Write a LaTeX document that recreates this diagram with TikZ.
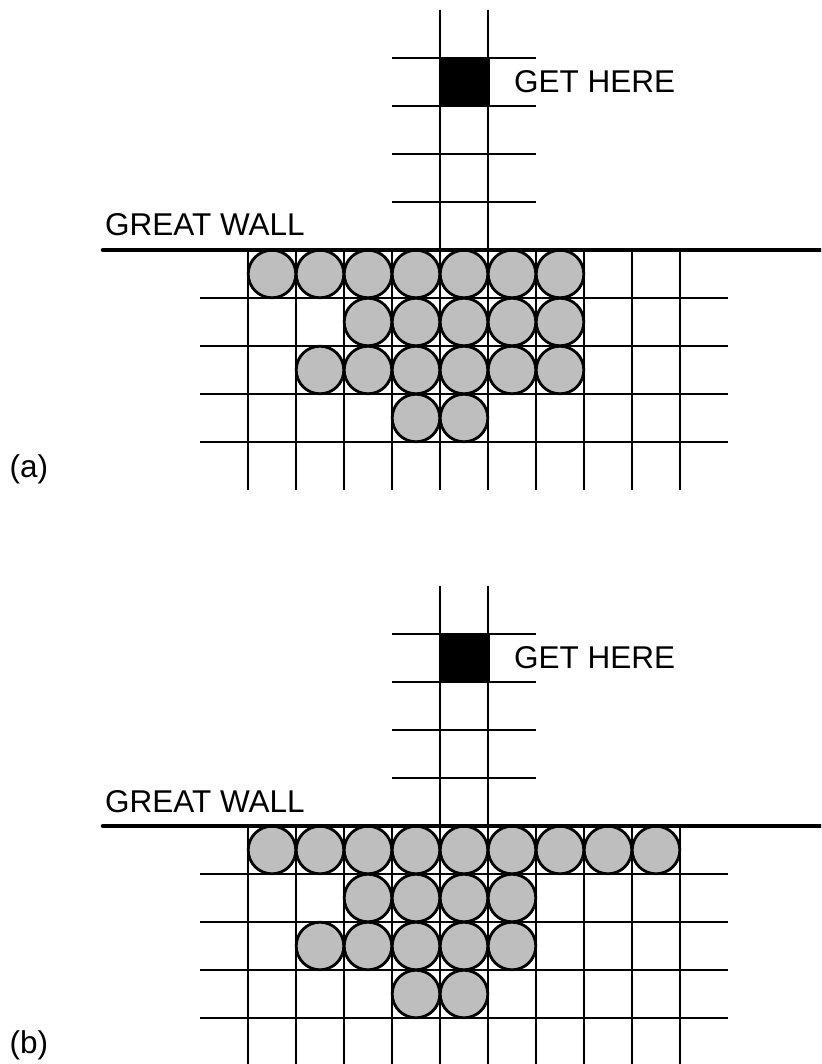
\documentclass[tikz,border=0pt]{standalone}
\usepackage{fontspec}
\setmainfont{Liberation Sans}
\newcommand\panelgrid[2]{%
  \foreach \i in {0,...,9} \draw[gridline] ({248+48*\i},250) -- ({248+48*\i},490);
  \foreach \j in {1,...,4} \draw[gridline] (200,{250+48*\j}) -- (728,{250+48*\j});
  \foreach \x in {440,488} \draw[gridline] (\x,10) -- (\x,250);
  \foreach \j in {1,...,4} \draw[gridline] (392,{250-48*\j}) -- (536,{250-48*\j});
  \filldraw[goal] (440,58) rectangle (489.5,106);
  \node[lbl] (get#2) at (514,92.5) {GET HERE};
  \node[lbl] (wall#2) at (105,236) {GREAT WALL};
  \node[lbl] (tag#2) at (9.5,477.5) {(#2)};
}
\newcommand\coinrow[2]{% #1 = row, #2 = list of columns
  \foreach \i in {#2} \draw[coin] ({272+48*\i},{274+48*#1}) circle (23.8);
}
\begin{document}
\begin{tikzpicture}[x=1pt,y=-1pt,
  gridline/.style={line width=2.4pt},
  wallline/.style={line width=4.5pt, line cap=round},
  coin/.style={draw=black, line width=2.8pt, fill={rgb,255:red,190;green,190;blue,190}},
  goal/.style={fill=black, draw=black, line width=1pt},
  lbl/.style={font=\fontsize{31.5}{38}\selectfont, anchor=base west, inner sep=0pt}]
\useasboundingbox (0,0) rectangle (821,1064);
\begin{scope}
  \clip (0,0) rectangle (821,1064);
  % panel (a)
  \begin{scope}
    \panelgrid{0}{a}
    \coinrow{0}{0,...,6}
    \coinrow{1}{2,...,6}
    \coinrow{2}{1,...,6}
    \coinrow{3}{3,4}
    \draw[wallline] (103,250) -- (830,250);
  \end{scope}
  % panel (b)
  \begin{scope}[yshift=-576pt]
    \panelgrid{576}{b}
    \coinrow{0}{0,...,8}
    \coinrow{1}{2,...,5}
    \coinrow{2}{1,...,5}
    \coinrow{3}{3,4}
    \draw[wallline] (103,250) -- (830,250);
  \end{scope}
\end{scope}
\end{tikzpicture}
\end{document}
